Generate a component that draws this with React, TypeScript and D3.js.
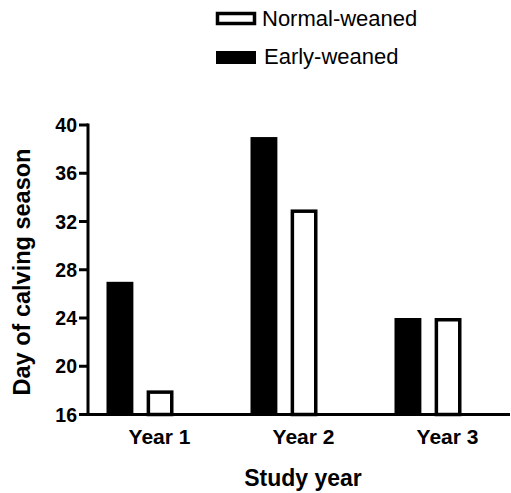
import React from "react";
import * as d3 from "d3";

const years = ["Year 1", "Year 2", "Year 3"];
const groups = ["Early-weaned", "Normal-weaned"];
const earlyWeaned = [27, 39, 24];
const normalWeaned = [18, 33, 24];
const yTicks = [16, 20, 24, 28, 32, 36, 40];

const W = 511;
const H = 493;
const FONT = "Arial, 'Liberation Sans', sans-serif";

export default function App() {
  const left = 88;
  const bottom = 414.5;
  const top = 125;

  const x0 = d3.scaleBand().domain(years).range([87.5, 87.5 + 144 * 3]);
  const x1 = d3.scaleBand().domain(groups).range([19, 86]).paddingInner(0.33);
  const y = d3.scaleLinear().domain([16, 40]).range([bottom, top]);

  const sw = 3.5;

  return (
    <svg width={W} height={H} style={{ position: "absolute", left: 0, top: 0, background: "#fff" }}>
      {/* legend */}
      <rect x={217.5} y={13.5} width={37} height={10} fill="#fff" stroke="#000" strokeWidth={3.5} />
      <text x={262} y={26} fontFamily={FONT} fontSize={22}>Normal-weaned</text>
      <rect x={216} y={51} width={40} height={13} fill="#000" />
      <text x={264} y={64} fontFamily={FONT} fontSize={22}>Early-weaned</text>

      {/* bars */}
      {years.map((yr, i) => {
        const b = x0(yr)!;
        const ex = b + x1("Early-weaned")!;
        const nx = b + x1("Normal-weaned")!;
        const bw = x1.bandwidth();
        return (
          <g key={yr}>
            <rect x={ex} y={y(earlyWeaned[i])} width={bw} height={bottom - y(earlyWeaned[i])} fill="#000" />
            <rect
              x={nx + sw / 2}
              y={y(normalWeaned[i]) + sw / 2}
              width={bw - sw}
              height={bottom - y(normalWeaned[i]) - sw / 2}
              fill="#fff"
              stroke="#000"
              strokeWidth={sw}
            />
          </g>
        );
      })}

      {/* y axis */}
      <line x1={left} x2={left} y1={top - 1.5} y2={bottom + 1.5} stroke="#000" strokeWidth={3} />
      {yTicks.map((t) => (
        <g key={t}>
          <line x1={79} x2={left} y1={y(t)} y2={y(t)} stroke="#000" strokeWidth={3} />
          <text x={77} y={y(t)} dy="0.36em" textAnchor="end" fontFamily={FONT} fontWeight="bold" fontSize={19.5}>
            {t}
          </text>
        </g>
      ))}

      {/* x axis */}
      <line x1={left - 1.5} x2={510} y1={bottom} y2={bottom} stroke="#000" strokeWidth={3} />
      {years.map((yr) => (
        <text
          key={yr}
          x={x0(yr)! + x0.bandwidth() / 2}
          y={444}
          textAnchor="middle"
          fontFamily={FONT}
          fontWeight="bold"
          fontSize={21}
        >
          {yr}
        </text>
      ))}

      <text x={303} y={486} textAnchor="middle" fontFamily={FONT} fontWeight="bold" fontSize={23}>
        Study year
      </text>
      <text
        transform="translate(30,272) rotate(-90)"
        textAnchor="middle"
        fontFamily={FONT}
        fontWeight="bold"
        fontSize={23.5}
      >
        Day of calving season
      </text>
    </svg>
  );
}
